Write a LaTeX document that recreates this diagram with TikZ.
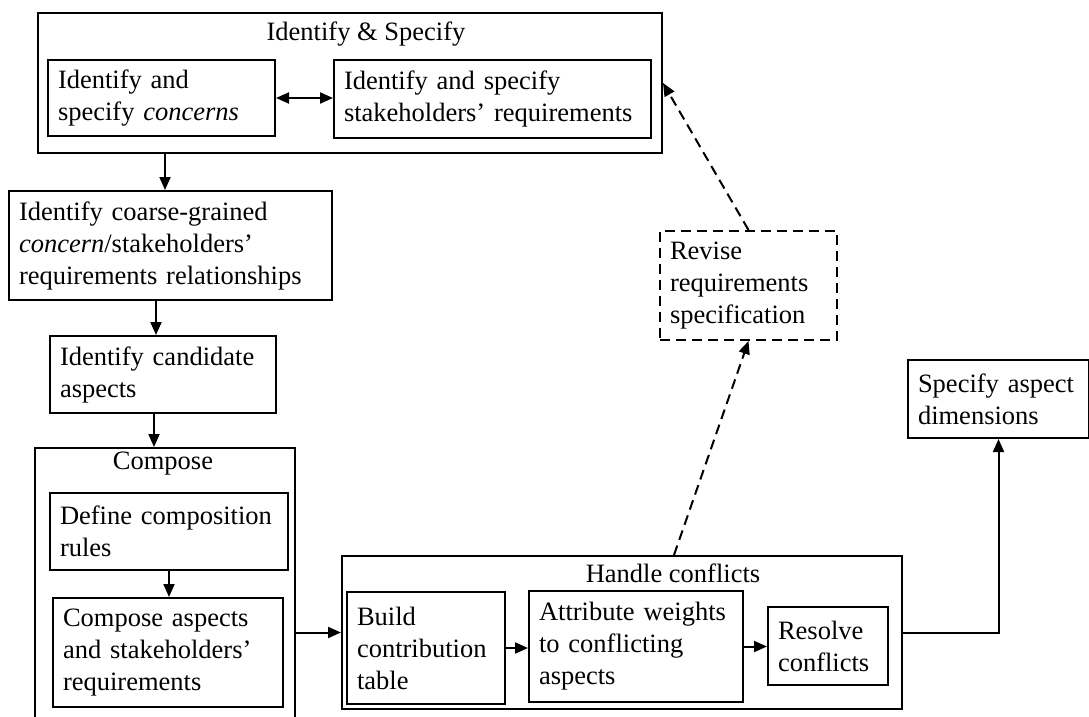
\documentclass[tikz,border=0pt]{standalone}
\usepackage{fontspec}
\setmainfont{Liberation Serif}
\usetikzlibrary{arrows.meta,positioning}

\tikzset{
  stepbox/.style={rectangle,draw=black,anchor=north west,align=left,
                  inner xsep=10pt,inner ysep=0pt,font=\fontsize{26.5}{32}\selectfont},
  groupbox/.style={rectangle,draw=black,anchor=north west,inner sep=0pt},
  grouplabel/.style={inner sep=0pt,font=\fontsize{26.5}{32}\selectfont},
  revisebox/.style={stepbox,dash pattern=on 10pt off 6pt},
  flow/.style={->},
  dashflow/.style={->,dash pattern=on 10pt off 6pt},
}

\begin{document}
\begin{tikzpicture}[x=1pt,y=-1pt,line width=2pt,>={Triangle[length=13pt,width=11pt]}]
\useasboundingbox (0,0) rectangle (1089,717);

% group frames
\node[groupbox,minimum width=624pt,minimum height=140pt] (ident) at (37,12) {};
\node[grouplabel] (identlabel) at (366,34) {Identify \& Specify};
\begin{scope}
\clip (0,0) rectangle (1089,717);
\node[groupbox,minimum width=260pt,minimum height=290pt] (compose) at (34,447) {};
\end{scope}
\node[grouplabel] (composelabel) at (163,464) {Compose};
\node[groupbox,minimum width=560pt,minimum height=153pt] (handle) at (341,555) {};
\node[grouplabel] (handlelabel) at (673,573) {Handle conflicts};

% the steps
\node[stepbox,text width=207pt,minimum height=76pt] (identcon)  at (47,59)   {Identify and\\specify \emph{concerns}};
\node[stepbox,text width=297pt,minimum height=78pt] (identreq)  at (333,59)  {Identify and specify\\stakeholders' requirements};
\node[stepbox,text width=303pt,minimum height=109pt] (coarse)   at (8,190)   {Identify coarse-grained\\\emph{concern}/stakeholders'\\requirements relationships};
\node[stepbox,text width=206pt,minimum height=77pt] (cand)      at (49,335)  {Identify candidate\\aspects};
\node[stepbox,text width=218pt,minimum height=77pt] (define)    at (49,492)  {Define composition\\rules};
\node[stepbox,text width=210pt,minimum height=109pt] (compasp)  at (52,597)  {Compose aspects\\and stakeholders'\\requirements};
\node[stepbox,text width=138pt,minimum height=112pt] (build)    at (346,591) {Build\\contribution\\table};
\node[stepbox,text width=194pt,minimum height=111pt] (attr)     at (528,590) {Attribute weights\\to conflicting\\aspects};
\node[stepbox,text width=100pt,minimum height=78pt]  (resolve)  at (767,606) {Resolve\\conflicts};
\node[revisebox,text width=157pt,minimum height=109pt] (revise) at (659,230) {Revise\\requirements\\specification};
\node[stepbox,text width=161pt,minimum height=78pt]  (specify)  at (907,359) {Specify aspect\\dimensions};

% transitions
\draw[<->] (identcon.east) -- (identcon.east -| identreq.west);
\draw[flow] ([xshift=128pt]ident.south west) -- ([xshift=128pt]ident.south west |- coarse.north);
\draw[flow] ([xshift=-7pt]cand.north |- coarse.south) -- ([xshift=-7pt]cand.north);
\draw[flow] ([xshift=-9pt]cand.south) -- ([xshift=-9pt]cand.south |- compose.north);
\draw[flow] (define.south) -- (define.south |- compasp.north);
\draw[flow] (handle.west -| compose.east) -- (handle.west);
\draw[flow] (build.east) -- (build.east -| attr.west);
\draw[flow] (attr.east) -- (attr.east -| resolve.west);
\draw[flow] (handle.east) -| (specify.south);
\draw[dashflow] ([xshift=52pt]handle.north) -- (revise.south);
\draw[dashflow] (revise.north) -- (ident.east);
\end{tikzpicture}
\end{document}
